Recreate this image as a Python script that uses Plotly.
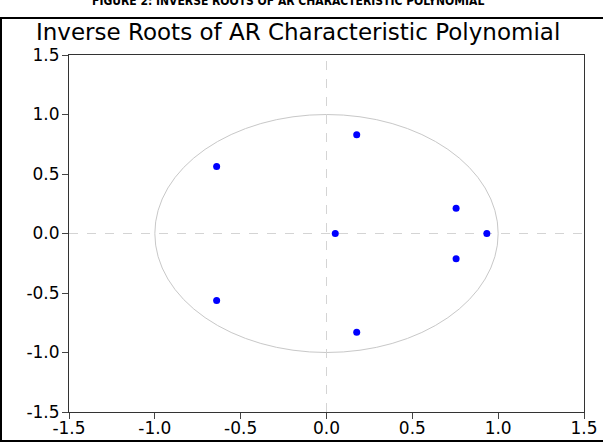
import plotly.graph_objects as go

root_re = [-0.64, 0.176, 0.755, 0.934, 0.051, 0.755, 0.176, -0.64]
root_im = [0.563, 0.830, 0.213, 0.0, 0.0, -0.213, -0.830, -0.563]
tick_vals = [-1.5, -1.0, -0.5, 0.0, 0.5, 1.0, 1.5]
tick_text = ["-1.5", "-1.0", "-0.5", "0.0", "0.5", "1.0", "1.5"]

W, H = 603, 443
L, R, T, B = 69, 19, 55, 31
pw, ph = W - L - R, H - T - B

def px_x(p):
    return (p - L) / pw

def px_y(p):
    return (H - B - p) / ph

fig = go.Figure()
fig.add_trace(go.Scatter(
    x=root_re, y=root_im, mode="markers",
    marker=dict(color="#0000ff", size=7, line=dict(width=0)),
    showlegend=False, hoverinfo="x+y"))

shapes = [
    dict(type="circle", xref="x", yref="y", x0=-1, y0=-1, x1=1, y1=1,
         line=dict(color="#c8c8c8", width=1), layer="below"),
    dict(type="line", xref="x", yref="y", x0=-1.5, x1=1.5, y0=0, y1=0,
         line=dict(color="#d4d4d4", width=1, dash="dash"), layer="below"),
    dict(type="line", xref="x", yref="y", x0=0, x1=0, y0=-1.5, y1=1.5,
         line=dict(color="#d4d4d4", width=1, dash="dash"), layer="below"),
    dict(type="rect", xref="paper", yref="paper",
         x0=px_x(1), x1=px_x(615), y0=px_y(441), y1=px_y(18),
         line=dict(color="black", width=2), layer="above"),
]

axis_common = dict(
    range=[-1.5, 1.5], tickmode="array", tickvals=tick_vals, ticktext=tick_text,
    ticks="outside", ticklen=6, tickcolor="#444444", tickwidth=1,
    showline=True, linecolor="#333333", linewidth=1, mirror=True,
    showgrid=False, zeroline=False, automargin=False,
    tickfont=dict(family="DejaVu Sans", size=17, color="black"),
)

fig.update_layout(
    width=W, height=H,
    margin=dict(l=L, r=R, t=T, b=B, autoexpand=False),
    paper_bgcolor="white", plot_bgcolor="white",
    xaxis=dict(axis_common, ticklabelstandoff=-5),
    yaxis=dict(axis_common, ticklabelstandoff=-1),
    shapes=shapes,
    annotations=[
        dict(text="<b>FIGURE 2: INVERSE ROOTS OF AR CHARACTERISTIC POLYNOMIAL</b>",
             xref="paper", yref="paper", x=px_x(288), y=px_y(1),
             xanchor="center", yanchor="middle", showarrow=False,
             font=dict(family="Liberation Sans Narrow, DejaVu Sans Condensed, Arial Narrow", size=12, color="black")),
        dict(text="Inverse Roots of AR Characteristic Polynomial",
             xref="paper", yref="paper", x=px_x(34), y=px_y(32),
             xanchor="left", yanchor="middle", showarrow=False,
             font=dict(family="DejaVu Sans", size=23, color="black")),
    ],
)

fig.write_html("out.html")
